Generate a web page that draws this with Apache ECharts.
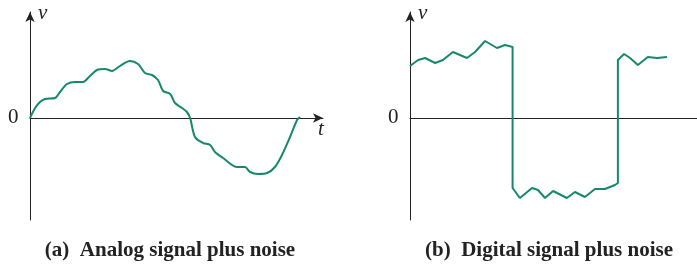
<!DOCTYPE html>
<html>
<head>
<meta charset="utf-8">
<script src="https://cdn.jsdelivr.net/npm/echarts@6/dist/echarts.min.js"></script>
<style>
html, body { margin: 0; padding: 0; background: #fff; }
#main { width: 697px; height: 266px; }
</style>
</head>
<body>
<div id="main"></div>
<script>
// signal readings, t in time units, v in volts
var analogT = [0, 0.19, 0.37, 0.56, 0.93, 1.11, 1.37, 1.67, 1.96, 2.22, 2.48, 2.78, 3.04, 3.33, 3.70, 4.00,
  4.26, 4.52, 4.74, 4.93, 5.19, 5.37, 5.63, 5.81, 5.93, 6.11, 6.41, 6.67, 6.85, 7.15, 7.67, 7.96,
  8.15, 8.44, 8.78, 9.07, 9.33, 9.63, 9.89, 10.0];
var analogV = [0, 0.20, 0.32, 0.38, 0.40, 0.52, 0.68, 0.72, 0.72, 0.84, 0.96, 0.98, 0.94, 1.04, 1.14, 1.08,
  0.90, 0.86, 0.76, 0.54, 0.48, 0.30, 0.20, 0.12, 0, -0.38, -0.50, -0.54, -0.68, -0.80, -0.98, -0.98,
  -1.08, -1.12, -1.10, -0.98, -0.74, -0.38, -0.04, 0.02];

var digitalT = [0, 0.30, 0.56, 0.93, 1.22, 1.59, 2.11, 2.41, 2.78, 3.22, 3.52, 3.80,
  3.80, 4.07, 4.52, 4.74, 5.00, 5.30, 5.81, 6.11, 6.48, 6.85, 7.22, 7.59, 7.70,
  7.70, 7.93, 8.15, 8.44, 8.81, 9.15, 9.52];
var digitalV = [1.04, 1.16, 1.20, 1.10, 1.16, 1.32, 1.20, 1.32, 1.54, 1.40, 1.46, 1.42,
  -1.40, -1.60, -1.40, -1.44, -1.60, -1.46, -1.60, -1.48, -1.58, -1.42, -1.42, -1.34, -1.30,
  1.16, 1.28, 1.20, 1.06, 1.22, 1.20, 1.22];

var captions = ['(a)  Analog signal plus noise', '(b)  Digital signal plus noise'];

function pairs(xs, ys) {
  var out = [];
  for (var i = 0; i < xs.length; i++) out.push([xs[i], ys[i]]);
  return out;
}

var chart = echarts.init(document.getElementById('main'));
var axisCol = '#222';
var lineCol = '#17886c';
var serif = '"Liberation Serif", "DejaVu Serif", serif';

function xAx(idx, max, arrow) {
  return {
    type: 'value', gridIndex: idx, min: 0, max: max,
    axisLine: { onZero: true, lineStyle: { color: axisCol, width: 1 },
      symbol: arrow ? ['none', 'arrow'] : 'none', symbolSize: [7, 10] },
    axisTick: { show: false }, axisLabel: { show: false }, splitLine: { show: false }
  };
}
function yAx(idx) {
  return {
    type: 'value', gridIndex: idx, min: -2.04, max: 2.12,
    axisLine: { show: true, lineStyle: { color: axisCol, width: 1 },
      symbol: ['none', 'arrow'], symbolSize: [7, 10] },
    axisTick: { show: false }, axisLabel: { show: false }, splitLine: { show: false }
  };
}

option = {
  animation: false,
  grid: [
    { left: 30, top: 12, right: 374, bottom: 46 },
    { left: 410, top: 12, right: 0, bottom: 46 }
  ],
  xAxis: [xAx(0, 10.85, true), xAx(1, 10.63, false)],
  yAxis: [yAx(0), yAx(1)],
  series: [
    {
      type: 'line', xAxisIndex: 0, yAxisIndex: 0, showSymbol: false, smooth: 0.3,
      lineStyle: { color: lineCol, width: 2 },
      data: pairs(analogT, analogV)
    },
    {
      type: 'line', xAxisIndex: 1, yAxisIndex: 1, showSymbol: false,
      lineStyle: { color: lineCol, width: 2 },
      data: pairs(digitalT, digitalV)
    }
  ],
  graphic: [
    { type: 'text', left: 38, top: 3, style: { text: 'v', font: 'italic 21px ' + serif, fill: '#222' } },
    { type: 'text', left: 418, top: 3, style: { text: 'v', font: 'italic 21px ' + serif, fill: '#222' } },
    { type: 'text', left: 318, top: 119, style: { text: 't', font: 'italic 21px ' + serif, fill: '#222' } },
    { type: 'text', left: 8, top: 107, style: { text: '0', font: '21px ' + serif, fill: '#222' } },
    { type: 'text', left: 388, top: 107, style: { text: '0', font: '21px ' + serif, fill: '#222' } },
    { type: 'text', x: 170, y: 251, style: { text: captions[0], font: 'bold 21px ' + serif, fill: '#222',
      align: 'center', verticalAlign: 'middle' } },
    { type: 'text', x: 549, y: 251, style: { text: captions[1], font: 'bold 21px ' + serif, fill: '#222',
      align: 'center', verticalAlign: 'middle' } }
  ]
};
chart.setOption(option);
</script>
</body>
</html>
